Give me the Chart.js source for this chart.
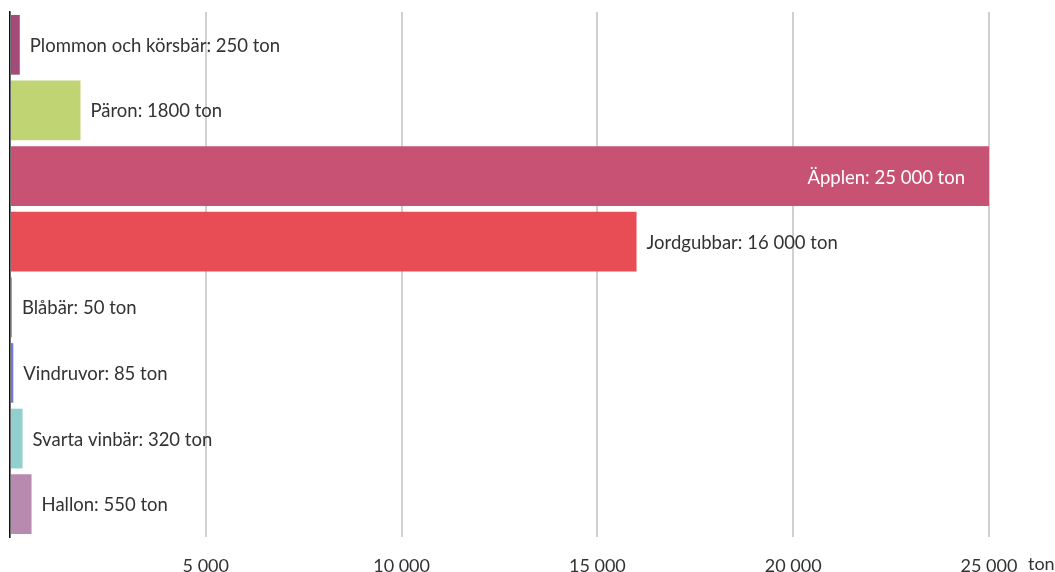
<!DOCTYPE html>
<html>
<head>
<meta charset="utf-8">
<script src="https://cdn.jsdelivr.net/npm/chart.js@4"></script>
<style>
  html, body { margin: 0; padding: 0; background: #fff; }
  #wrap { width: 1055px; height: 572px; }
</style>
</head>
<body>
<div id="wrap"><canvas id="fruitChart" width="1055" height="572"></canvas></div>
<script>
const fruits = ['Plommon och körsbär', 'Päron', 'Äpplen', 'Jordgubbar', 'Blåbär', 'Vindruvor', 'Svarta vinbär', 'Hallon'];
const tons = [250, 1800, 25000, 16000, 50, 85, 320, 550];
const barColors = ['#a44b79', '#c0d473', '#c85274', '#e84c55', '#5ab8bc', '#737ad8', '#8fd0cf', '#b98ab0'];
const xTicks = [0, 5000, 10000, 15000, 20000, 25000];
const unit = 'ton';

const FONT = 'Lato, "Open Sans", sans-serif';

function spaced(n) {
    return String(n).replace(/\B(?=(\d{3})+(?!\d))/g, ' ');
}
function labelNum(n) {
    return n >= 10000 ? spaced(n) : String(n);
}

const valueLabels = {
    id: 'valueLabels',
    afterDatasetsDraw(chart) {
        const c = chart.ctx;
        const meta = chart.getDatasetMeta(0);
        c.save();
        c.font = '18.5px ' + FONT;
        c.textBaseline = 'middle';
        meta.data.forEach((bar, i) => {
            const text = fruits[i] + ': ' + labelNum(tons[i]) + ' ' + unit;
            const w = c.measureText(text).width;
            if (bar.x + 10 + w > chart.chartArea.right) {
                c.fillStyle = '#ffffff';
                c.textAlign = 'right';
                c.fillText(text, bar.x - 24, bar.y + 2);
            } else {
                c.fillStyle = '#333333';
                c.textAlign = 'left';
                c.fillText(text, bar.x + 10, bar.y + 1);
            }
        });
        c.restore();
    }
};

const unitLabel = {
    id: 'unitLabel',
    afterDraw(chart) {
        const c = chart.ctx;
        const s = chart.scales.x;
        c.save();
        c.font = '18px ' + FONT;
        c.fillStyle = '#333333';
        c.textAlign = 'left';
        c.textBaseline = 'middle';
        c.fillText(unit, s.right + 39, 564);
        c.restore();
    }
};

new Chart(document.getElementById('fruitChart'), {
    type: 'bar',
    data: {
        labels: fruits,
        datasets: [{
            data: tons,
            backgroundColor: barColors,
            borderWidth: 0,
            barPercentage: 0.91,
            categoryPercentage: 1
        }]
    },
    options: {
        indexAxis: 'y',
        responsive: false,
        animation: false,
        layout: { padding: { left: 0, right: 66, top: 12, bottom: 0 } },
        plugins: {
            legend: { display: false },
            tooltip: { enabled: false }
        },
        scales: {
            x: {
                min: 0,
                max: 25000,
                afterBuildTicks(scale) {
                    scale.ticks = xTicks.map(v => ({ value: v }));
                },
                afterFit(scale) {
                    scale.height = 35;
                    scale.paddingLeft = 0;
                    scale.paddingRight = 0;
                },
                ticks: {
                    padding: 18,
                    color: '#333333',
                    font: { family: FONT, size: 18 },
                    maxRotation: 0,
                    callback: v => v === 0 ? '' : spaced(v)
                },
                grid: { color: '#d0d0d0', lineWidth: 2, drawTicks: false },
                border: { display: false }
            },
            y: {
                afterFit(scale) { scale.width = 10; },
                ticks: { display: false },
                grid: { display: false, drawTicks: false },
                border: { display: true, color: '#111111', width: 1.5, z: -1 }
            }
        }
    },
    plugins: [valueLabels, unitLabel]
});
</script>
</body>
</html>
